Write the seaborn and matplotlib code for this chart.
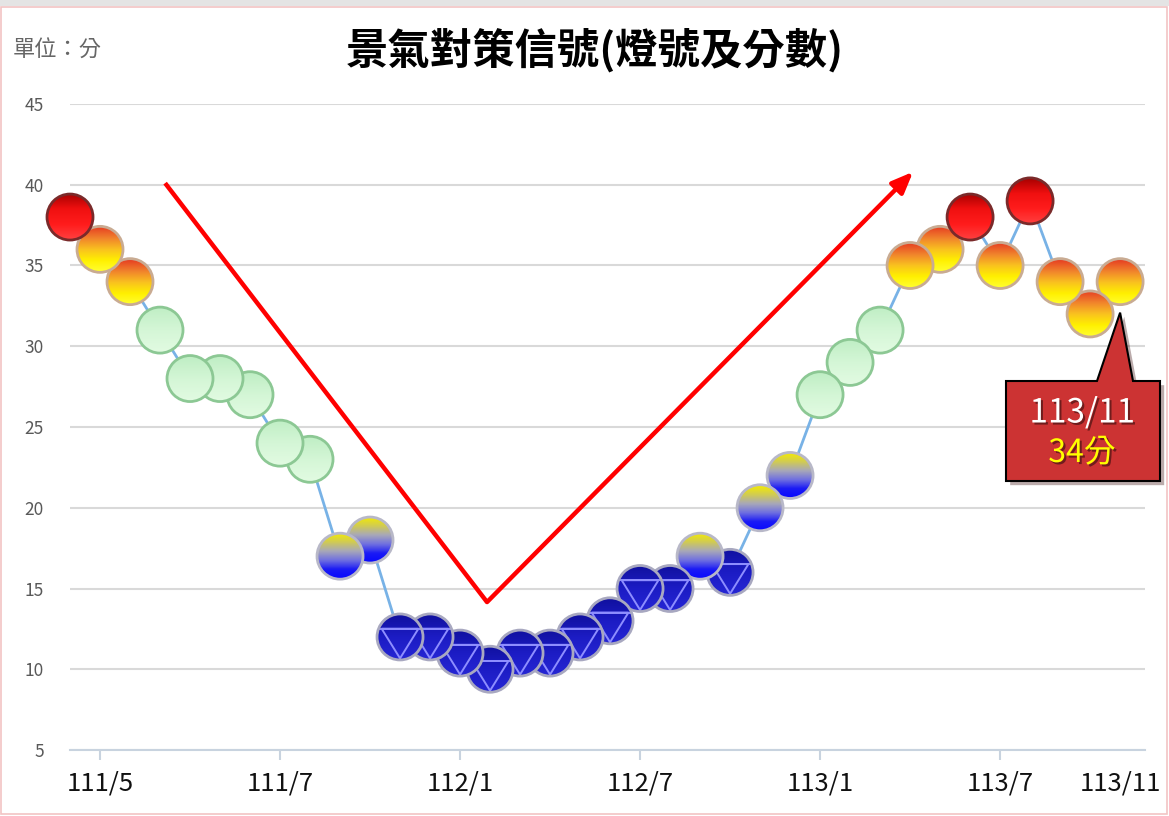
import numpy as np
import pandas as pd
import matplotlib.pyplot as plt
import matplotlib.transforms as mtransforms
import matplotlib.patheffects as pe
import seaborn as sns
from matplotlib.patches import Circle, Polygon, Rectangle
from matplotlib.colors import LinearSegmentedColormap

# monthly composite scores, 110/12 .. 113/11
scores = [38, 36, 34, 31, 28, 28, 27, 24, 23, 17, 18, 12, 12, 11, 10, 11, 11, 12,
          13, 15, 15, 17, 16, 20, 22, 27, 29, 31, 35, 36, 38, 35, 39, 34, 32, 34]
tick_idx = [1, 7, 13, 19, 25, 31]
tick_labels = ['111/5', '111/7', '112/1', '112/7', '113/1', '113/7']
last_label = '113/11'
y_ticks = [5, 10, 15, 20, 25, 30, 35, 40, 45]

title = '景氣對策信號(燈號及分數)'
unit_text = '單位：分'

# trend arrows (V shape), in data units
v_start = (3.17, 40.1)
v_bottom = (13.9, 14.16)
v_end = (28.1, 40.8)

W, H = 1169, 816
LAMP_R = 23  # px

# gradient top -> bottom, rim colour
LAMP_STYLES = {
    'red': (['#a80000', '#f01010', '#ff1c1c', '#ff4040'], '#7a2a2a'),
    'yellow_red': (['#e63c22', '#f0802c', '#f9c020', '#fff000', '#ffff30'], '#c9ab92'),
    'green': (['#bfeec4', '#d4f6d6', '#e2fbe2'], '#8cc894'),
    'yellow_blue': (['#f5ec00', '#d2cc50', '#a8a8b8', '#7070e0', '#1a1af5', '#0808ff'], '#b8b8c8'),
    'blue': (['#10109e', '#1c1cc4', '#2626d4'], '#a8a8c0'),
}


def signal_of(v):
    if v >= 38:
        return 'red'
    if v >= 32:
        return 'yellow_red'
    if v >= 23:
        return 'green'
    if v >= 17:
        return 'yellow_blue'
    return 'blue'


df = pd.DataFrame({'idx': np.arange(len(scores)), 'score': scores})
df['signal'] = df['score'].apply(signal_of)

sns.set_theme(style='white')
plt.rcParams['font.family'] = ['Noto Sans CJK TC', 'DejaVu Sans']

fig = plt.figure(figsize=(W / 100, H / 100), dpi=100)
ax = fig.add_axes([70 / W, 1 - 750 / H, (1145 - 70) / W, (750 - 104) / H])

sns.lineplot(data=df, x='idx', y='score', color='#78b2e6', linewidth=2, ax=ax, zorder=2)
ax.set(xlabel='', ylabel='')
ax.set_xlim(0, 35.83)
ax.set_ylim(5, 45)

ax.set_yticks(y_ticks)
ax.yaxis.grid(True, color='#d9d9d9', lw=1.5)
ax.xaxis.grid(False)
for s in ['top', 'right', 'left']:
    ax.spines[s].set_visible(False)
ax.spines['bottom'].set_color('#c8d3df')
ax.spines['bottom'].set_linewidth(1.5)
ax.set_xticks(tick_idx, tick_labels)
ax.set_xticks([len(scores) - 1], [last_label], minor=True)
ax.tick_params(axis='x', which='major', bottom=True, length=7, width=1.5,
               color='#c8d3df', pad=8, labelsize=18.5, labelcolor='#111111')
ax.tick_params(axis='x', which='minor', bottom=True, length=0, pad=15,
               labelsize=18.5, labelcolor='#111111')
ax.tick_params(axis='y', left=False, length=0, pad=19, labelsize=12.5, labelcolor='#595959')

# trend lines
ax.plot([v_start[0], v_bottom[0]], [v_start[1], v_bottom[1]], color='#ff0000', lw=3.2,
        solid_capstyle='butt', zorder=4)
ax.annotate('', xy=v_end, xytext=v_bottom,
            arrowprops=dict(arrowstyle='-|>,head_length=0.8,head_width=0.33', color='#ff0000',
                            lw=3.2, mutation_scale=16, shrinkA=0, shrinkB=0), zorder=4)

# lamps
ident = mtransforms.IdentityTransform()
grad = np.linspace(0, 1, 64).reshape(-1, 1)
n = len(df)
for i, row in df.iterrows():
    kind = row['signal']
    colors, rim = LAMP_STYLES[kind]
    z = 5 + (n - i) * 0.01 + (1 if kind == 'red' else 0)
    cx, cy = ax.transData.transform((row['idx'], row['score']))
    circ = Circle((cx, cy), LAMP_R, transform=ident, facecolor='none', edgecolor=rim,
                  lw=2, zorder=z + 0.003, clip_on=False)
    (x0, y0), (x1, y1) = ax.transData.inverted().transform(
        [(cx - LAMP_R, cy - LAMP_R), (cx + LAMP_R, cy + LAMP_R)])
    cmap = LinearSegmentedColormap.from_list(kind, colors)
    im = ax.imshow(grad, cmap=cmap, extent=(x0, x1, y0, y1), origin='upper',
                   aspect='auto', zorder=z, interpolation='bilinear')
    im.set_clip_path(circ)
    im.set_clip_box(fig.bbox)
    ax.add_patch(circ)
    if kind == 'blue':
        r = LAMP_R
        tri = Polygon([(cx - 0.8 * r, cy + 0.36 * r), (cx + 0.8 * r, cy + 0.36 * r),
                       (cx, cy - 0.93 * r)], closed=True, transform=ident, facecolor='none',
                      edgecolor='#8e8eff', lw=1.4, zorder=z + 0.001, clip_on=False)
        chord = Polygon([(cx - 0.92 * r, cy + 0.36 * r), (cx + 0.92 * r, cy + 0.36 * r)],
                        closed=False, transform=ident, facecolor='none',
                        edgecolor='#8e8eff', lw=1.4, zorder=z + 0.001, clip_on=False)
        ax.add_patch(tri)
        ax.add_patch(chord)

ax.set_xlim(0, 35.83)
ax.set_ylim(5, 45)

# callout for the latest month
tx, ty = ax.transData.transform((df['idx'].iloc[-1], df['score'].iloc[-1]))
tip_y = H - (H - ty + LAMP_R + 8)
box_top, box_bot = H - 381, H - 481
callout = Polygon([(1006, box_top), (1097, box_top), (tx, tip_y), (1133, box_top),
                   (1160, box_top), (1160, box_bot), (1006, box_bot)], closed=True,
                  transform=ident, facecolor='#cc3333', edgecolor='black', lw=1.5, zorder=20,
                  path_effects=[pe.SimplePatchShadow(offset=(3, -3), alpha=0.35), pe.Normal()])
fig.add_artist(callout)
txt_fx = [pe.withSimplePatchShadow(offset=(1.5, -1.5), shadow_rgbFace='black', alpha=0.45)]
fig.text(1082 / W, 1 - 413 / H, last_label, ha='center', va='center', fontsize=24,
         color='white', zorder=21, path_effects=txt_fx)
fig.text(1082 / W, 1 - 453 / H, f'{scores[-1]}分', ha='center', va='center', fontsize=23,
         color='#ffff00', zorder=21, path_effects=txt_fx)

# titles
fig.text(595 / W, 1 - 50 / H, title, ha='center', va='center', fontsize=30.5,
         fontweight='bold', color='black')
fig.text(13 / W, 1 - 50 / H, unit_text, ha='left', va='center', fontsize=16, color='#666666')

# frame
fig.add_artist(Rectangle((0, 1 - 6 / H), 1, 6 / H, transform=fig.transFigure,
                         facecolor='#e4e4e4', edgecolor='none'))
fig.add_artist(Rectangle((1 / W, 2 / H), 1 - 3 / W, 1 - 9 / H, transform=fig.transFigure,
                         fill=False, edgecolor='#f2c4c4', lw=1.2))

fig.savefig('out.png', dpi=100)
